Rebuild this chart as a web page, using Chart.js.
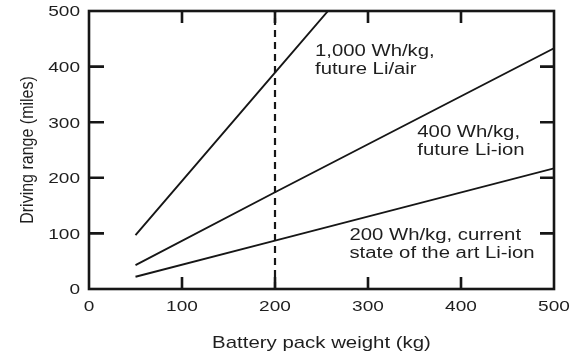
<!DOCTYPE html>
<html>
<head>
<meta charset="utf-8">
<script src="https://cdn.jsdelivr.net/npm/chart.js@4"></script>
<style>
  html, body { margin: 0; padding: 0; background: #ffffff; }
  canvas { display: block; }
</style>
</head>
<body>
<canvas id="chart" width="576" height="354"></canvas>
<script>
// Driving range vs. battery pack weight for three battery chemistries
const li200Weight = [50, 200, 500];
const li200Range  = [22, 87, 217];
const li400Weight = [50, 200, 500];
const li400Range  = [43, 174, 433];
const liAirWeight = [50, 200, 257];
const liAirRange  = [97, 389, 500];

const refWeight = 200;            // dashed reference pack weight
const xTickValues = [0, 100, 200, 300, 400, 500];
const yTickValues = [0, 100, 200, 300, 400, 500];

const xTitle = 'Battery pack weight (kg)';
const yTitle = 'Driving range (miles)';

// Curve labels: [text lines, anchor weight, anchor range]
const curveLabels = [
  [['1,000 Wh/kg,', 'future Li/air'], 243, 419],
  [['400 Wh/kg,', 'future Li-ion'], 353, 273],
  [['200 Wh/kg, current', 'state of the art Li-ion'], 280, 88]
];

const INK = '#161616';
const TEXT = '#1e1e1e';
const FONT = "'Liberation Sans', Arial, Helvetica, sans-serif";
const WIDE = 1.27;   // horizontal stretch of the typeface

const toPoints = (xs, ys) => xs.map((x, i) => ({ x, y: ys[i] }));

function wideText(ctx, text, x, y, align, size, stretch) {
  ctx.save();
  ctx.font = size + 'px ' + FONT;
  ctx.translate(x, y);
  ctx.scale(stretch, 1);
  ctx.textAlign = align;
  ctx.textBaseline = 'alphabetic';
  ctx.fillText(text, 0, 0);
  ctx.restore();
}

const framePlugin = {
  id: 'frameAndText',
  beforeDraw(chart) {
    const ctx = chart.ctx;
    ctx.save();
    ctx.fillStyle = '#ffffff';
    ctx.fillRect(0, 0, chart.width, chart.height);
    ctx.restore();
  },
  afterDatasetsDraw(chart) {
    const { ctx, chartArea: a, scales: { x, y } } = chart;
    ctx.save();
    ctx.strokeStyle = INK;

    // box
    ctx.lineWidth = 2.6;
    ctx.strokeRect(a.left, a.top, a.right - a.left, a.bottom - a.top);

    // inward ticks on all four sides
    ctx.lineWidth = 2.6;
    ctx.beginPath();
    xTickValues.slice(1, -1).forEach(v => {
      const px = x.getPixelForValue(v);
      ctx.moveTo(px, a.bottom); ctx.lineTo(px, a.bottom - 12);
      ctx.moveTo(px, a.top);    ctx.lineTo(px, a.top + 12);
    });
    yTickValues.slice(1, -1).forEach(v => {
      const py = y.getPixelForValue(v);
      ctx.moveTo(a.left, py);  ctx.lineTo(a.left + 15, py);
      ctx.moveTo(a.right, py); ctx.lineTo(a.right - 14, py);
    });
    ctx.stroke();

    // tick labels
    ctx.fillStyle = TEXT;
    yTickValues.forEach(v => {
      wideText(ctx, String(v), a.left - 9, y.getPixelForValue(v) + 5.4, 'right', 15, WIDE);
    });
    xTickValues.forEach(v => {
      wideText(ctx, String(v), x.getPixelForValue(v), a.bottom + 22, 'center', 15, WIDE);
    });

    // axis titles
    wideText(ctx, xTitle, (a.left + a.right) / 2, 347.5, 'center', 17, 1.2);
    ctx.save();
    ctx.font = '16px ' + FONT;
    ctx.translate(33, (a.top + a.bottom) / 2);
    ctx.scale(1.13, 1);
    ctx.rotate(-Math.PI / 2);
    ctx.textAlign = 'center';
    ctx.textBaseline = 'alphabetic';
    ctx.fillText(yTitle, 0, 0);
    ctx.restore();

    // curve labels
    curveLabels.forEach(([lines, wx, ry]) => {
      const px = x.getPixelForValue(wx);
      const py = y.getPixelForValue(ry);
      lines.forEach((t, i) => wideText(ctx, t, px, py + i * 18, 'left', 16, WIDE));
    });
    ctx.restore();
  }
};

const lineStyle = {
  showLine: true,
  borderColor: INK,
  borderWidth: 1.9,
  pointRadius: 0,
  fill: false,
  tension: 0
};

new Chart(document.getElementById('chart'), {
  type: 'scatter',
  data: {
    datasets: [
      { ...lineStyle, label: '1,000 Wh/kg', data: toPoints(liAirWeight, liAirRange) },
      { ...lineStyle, label: '400 Wh/kg', data: toPoints(li400Weight, li400Range) },
      { ...lineStyle, label: '200 Wh/kg', data: toPoints(li200Weight, li200Range) },
      { ...lineStyle, label: 'reference', borderWidth: 2.2, borderDash: [7, 5],
        data: [{ x: refWeight, y: 0 }, { x: refWeight, y: 500 }] }
    ]
  },
  options: {
    responsive: false,
    animation: false,
    devicePixelRatio: 1,
    layout: { padding: { top: 11, right: 22, left: 0, bottom: 0 } },
    plugins: { legend: { display: false }, tooltip: { enabled: false } },
    scales: {
      x: {
        type: 'linear', min: 0, max: 500,
        grid: { display: false }, border: { display: false },
        ticks: { display: false },
        afterFit(s) { s.height = 65; }
      },
      y: {
        type: 'linear', min: 0, max: 500,
        grid: { display: false }, border: { display: false },
        ticks: { display: false },
        afterFit(s) { s.width = 89; }
      }
    }
  },
  plugins: [framePlugin]
});
</script>
</body>
</html>
